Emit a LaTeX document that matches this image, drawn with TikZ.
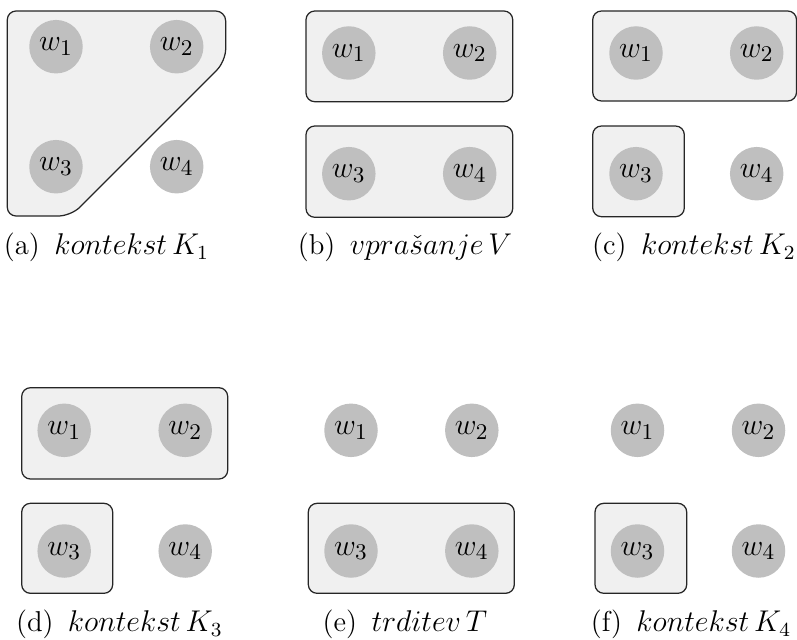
\documentclass[tikz,border=0pt]{standalone}
\begin{document}
\begin{tikzpicture}[x=0.4pt,y=-0.4pt,
  world/.style={circle,fill=black!25,minimum size=21.4pt,inner sep=0pt,font=\fontsize{12.8}{15}\selectfont},
  grp/.style={draw=black!85,fill=black!6,line width=0.5pt,rounded corners=3.5pt},
  subcap/.style={anchor=base,font=\fontsize{11.5}{13}\selectfont}]
\useasboundingbox (0,0) rectangle (797,639);
% ---------- (a)
\draw[grp] (7.3,11) [rounded corners=4pt] -- (225.7,11) [rounded corners=5pt] -- (225.7,61.3) -- (71,216) [rounded corners=3.5pt] -- (7.3,216) -- cycle;
\node[world] (a1) at (56,46.7) {$w_1$};
\node[world] (a2) at (176.7,46.7) {$w_2$};
\node[world] (a3) at (56,166.7) {$w_3$};
\node[world] (a4) at (176.7,166.7) {$w_4$};
\node[subcap] (ca) at (106.5,254.5) {(a)\hspace{0.5em}$kontekst\,K_1$};
% ---------- (b)
\draw[grp] (306,11) rectangle (512.7,101.7);
\draw[grp] (306,126) rectangle (512.7,217.3);
\node[world] (b1) at (348.8,53) {$w_1$};
\node[world] (b2) at (469.7,53) {$w_2$};
\node[world] (b3) at (348.8,173.7) {$w_3$};
\node[world] (b4) at (469.7,173.7) {$w_4$};
\node[subcap] (cb) at (405,254.5) {(b)\hspace{0.5em}$vpra\check{s}anje\,V$};
% ---------- (c)
\draw[grp] (592.7,11) rectangle (796.5,101);
\draw[grp] (592.7,126) rectangle (684.3,216.7);
\node[world] (c1) at (636,53) {$w_1$};
\node[world] (c2) at (756.7,53) {$w_2$};
\node[world] (c3) at (636,173.7) {$w_3$};
\node[world] (c4) at (756.7,173.7) {$w_4$};
\node[subcap] (cc) at (694,254.5) {(c)\hspace{0.5em}$kontekst\,K_2$};
% ---------- (d)
\draw[grp] (21.7,387.7) rectangle (227.7,479);
\draw[grp] (21.7,503.3) rectangle (112.7,593.3);
\node[world] (d1) at (64.2,430.3) {$w_1$};
\node[world] (d2) at (185.2,430.3) {$w_2$};
\node[world] (d3) at (64.2,551) {$w_3$};
\node[world] (d4) at (185.2,551) {$w_4$};
\node[subcap] (cd) at (119.4,631.5) {(d)\hspace{0.5em}$kontekst\,K_3$};
% ---------- (e)
\draw[grp] (308.3,503.3) rectangle (514.3,593.3);
\node[world] (e1) at (351,430.3) {$w_1$};
\node[world] (e2) at (471.8,430.3) {$w_2$};
\node[world] (e3) at (351,551) {$w_3$};
\node[world] (e4) at (471.8,551) {$w_4$};
\node[subcap] (ce) at (405,631.5) {(e)\hspace{0.5em}$trditev\,T$};
% ---------- (f)
\draw[grp] (595,503.3) rectangle (686.7,593.3);
\node[world] (f1) at (637.5,430.3) {$w_1$};
\node[world] (f2) at (758.5,430.3) {$w_2$};
\node[world] (f3) at (637.5,551) {$w_3$};
\node[world] (f4) at (758.5,551) {$w_4$};
\node[subcap] (cf) at (691,631.5) {(f)\hspace{0.5em}$kontekst\,K_4$};
\end{tikzpicture}
\end{document}
